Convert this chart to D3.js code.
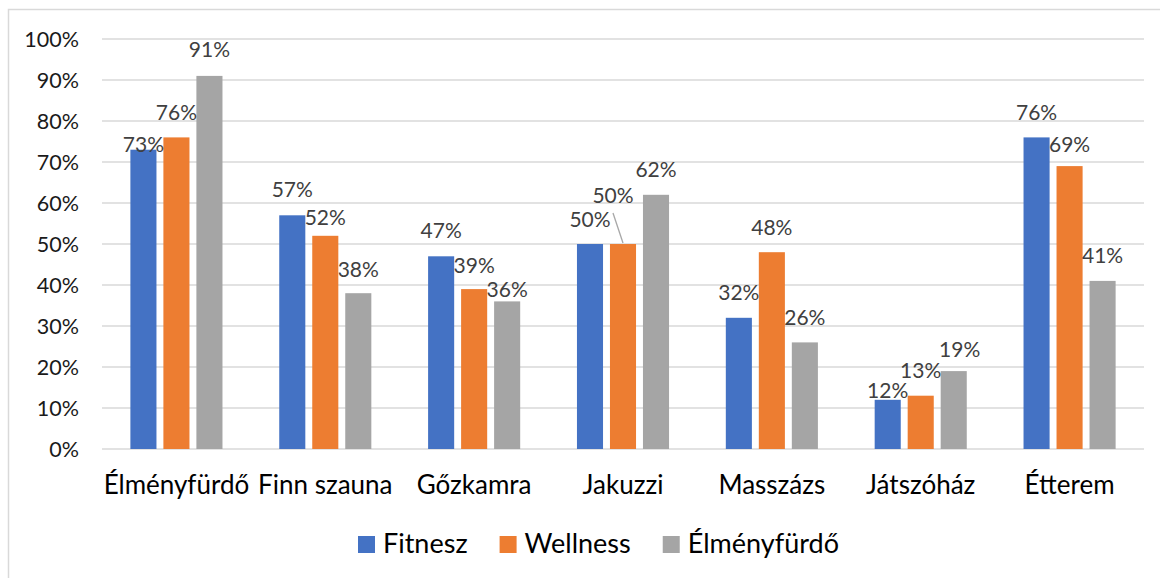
<!DOCTYPE html>
<html>
<head>
<meta charset="utf-8">
<script src="https://cdn.jsdelivr.net/npm/d3@7"></script>
<style>
  html, body { margin: 0; padding: 0; background: #fff; }
  svg { display: block; }
</style>
</head>
<body>
<svg id="chart" width="1160" height="578"></svg>
<script>
// ---- data ----
const categories = ["Élményfürdő", "Finn szauna", "Gőzkamra", "Jakuzzi", "Masszázs", "Játszóház", "Étterem"];
const seriesNames = ["Fitnesz", "Wellness", "Élményfürdő"];
const fitnesz     = [0.73, 0.57, 0.47, 0.50, 0.32, 0.12, 0.76];
const wellness    = [0.76, 0.52, 0.39, 0.50, 0.48, 0.13, 0.69];
const elmenyfurdo = [0.91, 0.38, 0.36, 0.62, 0.26, 0.19, 0.41];
const yTicks = [0, 0.1, 0.2, 0.3, 0.4, 0.5, 0.6, 0.7, 0.8, 0.9, 1.0];

// ---- style / layout ----
const colors = ["#4472C4", "#ED7D31", "#A5A5A5"];
const seriesValues = [fitnesz, wellness, elmenyfurdo];
// label placement adjustments [dx, dy] per category, per series (Excel collision avoidance)
const labelNudges = [
  [[0, 20], [0, 0], [0, -1]],
  [[0, -1], [0, 7], [0, 1]],
  [[0, -1], [0, 1.5], [0, 13]],
  [[0, 0], [-10, -24], [0, 0]],
  [[0, 0], [0, 0], [0, 0]],
  [[0, 15.5], [0, 0], [6, 3]],
  [[0, 0], [0, 3], [0, 0]]
];
const leaderLines = [[3, 1]]; // [category index, series index]

const FONT = "Lato, 'Open Sans', sans-serif";
const W = 1160, H = 578;
const plot = { left: 102, right: 1144, top: 39, bottom: 449 };
const svg = d3.select("#chart");

svg.append("rect").attr("x", 0).attr("y", 0).attr("width", W).attr("height", H).attr("fill", "#fff");
svg.append("rect").attr("x", 8.5).attr("y", 9.5).attr("width", W + 20).attr("height", H + 20)
  .attr("fill", "none").attr("stroke", "#d9d9d9").attr("stroke-width", 1.5);

const x0 = d3.scaleBand().domain(categories).range([plot.left, plot.right]).padding(0);
const x1 = d3.scaleBand().domain(seriesNames).range([0, x0.bandwidth()]).paddingInner(0.21).paddingOuter(0.86);
const y = d3.scaleLinear().domain([0, 1]).range([plot.bottom, plot.top]);

// gridlines
svg.append("g").selectAll("line").data(yTicks).join("line")
  .attr("x1", plot.left).attr("x2", plot.right)
  .attr("y1", d => y(d)).attr("y2", d => y(d))
  .attr("stroke", "#d9d9d9").attr("stroke-width", 1.4);

// y axis tick labels
const yAxis = d3.axisLeft(y).tickValues(yTicks).tickFormat(d3.format(".0%")).tickSize(0).tickPadding(0);
const gy = svg.append("g").attr("transform", `translate(79,0)`).call(yAxis);
gy.select(".domain").remove();
gy.selectAll("text").attr("font-family", FONT).attr("font-size", 21.5)
  .attr("fill", "#1a1a1a").attr("dy", "0.36em");

// x axis category labels
const xAxis = d3.axisBottom(x0).tickSize(0).tickPadding(0);
const gx = svg.append("g").attr("transform", `translate(0,${plot.bottom})`).call(xAxis);
gx.select(".domain").remove();
gx.selectAll("text").attr("font-family", FONT).attr("font-size", 26)
  .attr("fill", "#000").attr("y", 45).attr("dy", 0);

// bars
const groups = svg.append("g").selectAll("g").data(categories).join("g")
  .attr("transform", d => `translate(${x0(d)},0)`);

groups.selectAll("rect").data((c, ci) => seriesNames.map((s, si) => ({ s, si, ci, v: seriesValues[si][ci] })))
  .join("rect")
  .attr("x", d => x1(d.s)).attr("width", x1.bandwidth())
  .attr("y", d => y(d.v)).attr("height", d => y(0) - y(d.v))
  .attr("fill", d => colors[d.si]);

// data labels
const fmt = d3.format(".0%");
const labelG = svg.append("g");
categories.forEach((c, ci) => {
  seriesNames.forEach((s, si) => {
    const v = seriesValues[si][ci];
    const cx = x0(c) + x1(s) + x1.bandwidth() / 2;
    const top = y(v);
    const [dx, dy] = labelNudges[ci][si];
    const lx = cx + dx, ly = top - 25 + dy;
    labelG.append("text").attr("x", lx).attr("y", ly).attr("dy", "0.36em")
      .attr("text-anchor", "middle")
      .attr("font-family", FONT).attr("font-size", 21)
      .attr("fill", "#404040").text(fmt(v));
    if (leaderLines.some(([a, b]) => a === ci && b === si)) {
      labelG.append("line").attr("x1", lx).attr("y1", ly + 18).attr("x2", cx).attr("y2", top - 1)
        .attr("stroke", "#a6a6a6").attr("stroke-width", 1.3);
    }
  });
});

// legend
const legend = svg.append("g").attr("transform", "translate(358,536)");
let lxPos = 0;
seriesNames.forEach((s, i) => {
  const g = legend.append("g").attr("transform", `translate(${lxPos},0)`);
  g.append("rect").attr("width", 17).attr("height", 17).attr("fill", colors[i]);
  const t = g.append("text").attr("x", 25).attr("y", 17)
    .attr("font-family", FONT).attr("font-size", 27)
    .attr("fill", "#000").text(s);
  lxPos += 25 + t.node().getComputedTextLength() + 32;
});
</script>
</body>
</html>
